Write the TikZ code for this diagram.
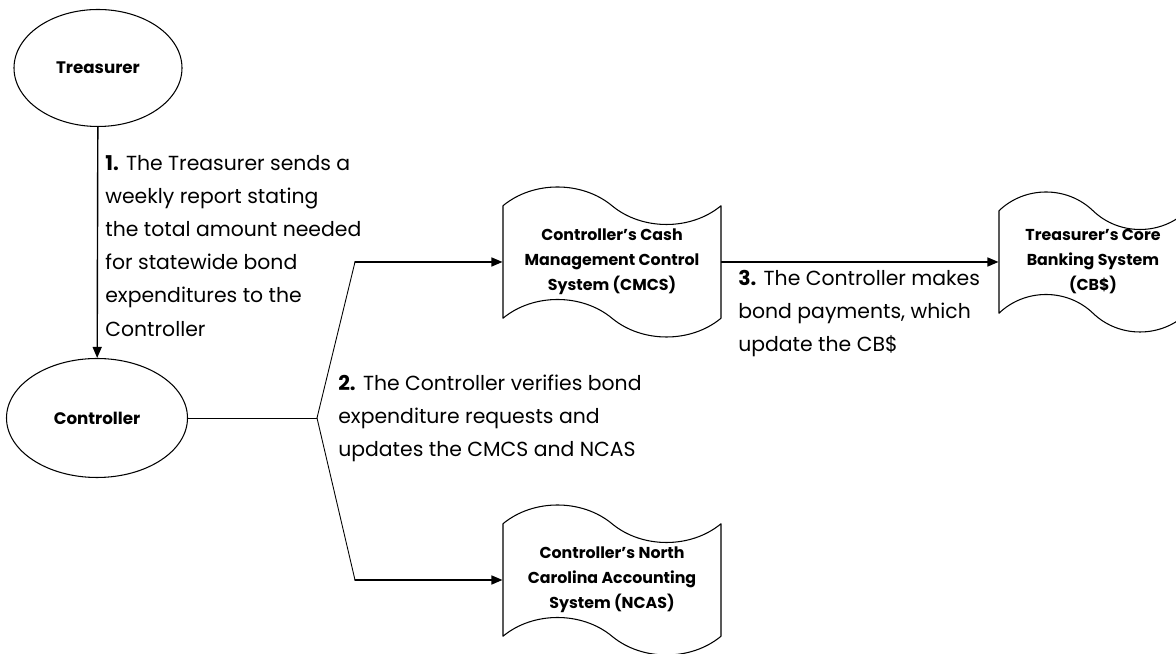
\documentclass[tikz,border=0pt]{standalone}
\usepackage{fontspec}
\setmainfont{Poppins}
\usetikzlibrary{arrows.meta, shapes.geometric, shapes.symbols}

\begin{document}
\begin{tikzpicture}[>={Triangle[length=2.2mm,width=1.8mm]}, line cap=round, line join=round,
	actor/.style={ellipse, draw, line width=0.6pt, inner sep=0pt, font=\fontsize{9.5}{11}\selectfont\bfseries},
	doc/.style={tape, draw, line width=0.6pt, tape bend top=out and in, tape bend bottom=out and in,
		tape bend height=0.75cm, minimum height=3.0cm, inner sep=0pt, align=center,
		font=\fontsize{9}{14.2}\selectfont\bfseries},
	note/.style={anchor=west, align=left, inner sep=0pt, font=\fontsize{11.6}{18.8}\selectfont},
	flow/.style={->, line width=0.8pt},
	fork/.style={line width=0.5pt}]
	
	\useasboundingbox (0,0) rectangle (23.52,13.08);
	\clip (0,0) rectangle (23.52,13.08);
	
	%========================
	% people
	%========================
	\node[actor, minimum width=3.36cm, minimum height=2.34cm] (treasurer) at (1.96,11.72) {Treasurer};
	\node[actor, minimum width=3.62cm, minimum height=2.38cm] (controller) at (1.94,4.72) {Controller};
	
	%========================
	% systems
	%========================
	\node[doc, minimum width=4.36cm] (cmcs) at (12.24,7.84) {Controller’s Cash\\Management Control\\System (CMCS)};
	\node[doc, minimum width=4.36cm] (ncas) at (12.24,1.48) {Controller’s North\\Carolina Accounting\\System (NCAS)};
	\node[doc, minimum width=3.76cm, minimum height=2.8cm] (cbs) at (21.86,7.84) {Treasurer’s Core\\Banking System\\(CB\$)};
	
	%========================
	% connectors
	%========================
	\draw[flow] (treasurer) -- (controller);
	
	\coordinate (split) at (6.34,4.72);
	\coordinate (kneeup) at (7.10,7.84);
	\coordinate (kneedown) at (7.10,1.48);
	\draw[fork] (controller) -- (split);
	\draw[fork] (split) -- (kneeup);
	\draw[fork] (split) -- (kneedown);
	\draw[flow] (kneeup) -- (cmcs.west);
	\draw[flow] (kneedown) -- (ncas.west);
	
	\draw[flow] (cmcs.east) -- (cbs.west);
	
	%========================
	% steps
	%========================
	\node[note] (stepone) at (2.10,8.16) {\textbf{1.} The Treasurer sends a\\weekly report stating\\the total amount needed\\for statewide bond\\expenditures to the\\Controller};
	\node[note] (steptwo) at (6.76,4.72) {\textbf{2.} The Controller verifies bond\\expenditure requests and\\updates the CMCS and NCAS};
	\node[note] (stepthree) at (14.76,6.80) {\textbf{3.} The Controller makes\\bond payments, which\\update the CB\$};
	
\end{tikzpicture}
\end{document}
